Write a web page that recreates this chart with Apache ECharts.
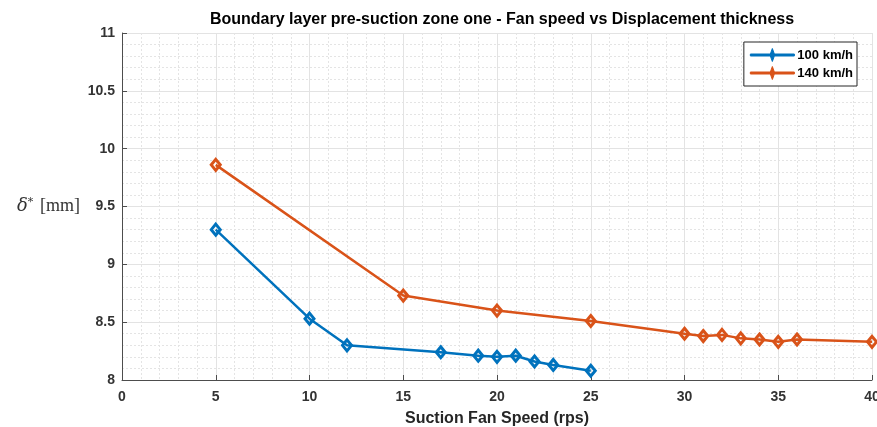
<!DOCTYPE html>
<html>
<head>
<meta charset="utf-8">
<script src="https://cdn.jsdelivr.net/npm/echarts@6/dist/echarts.min.js"></script>
<style>
  html, body { margin: 0; padding: 0; background: #fff; }
  #chart { width: 877px; height: 427px; }
</style>
</head>
<body>
<div id="chart"></div>
<script>
// Fan speed (rps) and displacement thickness (mm) per free-stream speed
const speed100 = [5, 10, 12, 17, 19, 20, 21, 22, 23, 25];
const delta100 = [9.30, 8.53, 8.30, 8.24, 8.21, 8.20, 8.21, 8.16, 8.13, 8.08];
const speed140 = [5, 15, 20, 25, 30, 31, 32, 33, 34, 35, 36, 40];
const delta140 = [9.86, 8.73, 8.60, 8.51, 8.40, 8.38, 8.39, 8.36, 8.35, 8.33, 8.35, 8.33];
const seriesNames = ['100 km/h', '140 km/h'];
const seriesColors = ['#0072BD', '#D95319'];

const pairs = (xs, ys) => xs.map((x, i) => [x, ys[i]]);

const chart = echarts.init(document.getElementById('chart'));

const sans = 'Liberation Sans, Arial, sans-serif';
const axisText = { color: '#333', fontFamily: sans, fontWeight: 'bold', fontSize: 14 };

function lineSeries(name, data, color) {
  return {
    name: name,
    type: 'line',
    data: data,
    symbol: 'diamond',
    symbolSize: [9, 11],
    showAllSymbol: true,
    lineStyle: { color: color, width: 2.5 },
    itemStyle: { color: 'rgba(255,255,255,0)', borderColor: color, borderWidth: 3 },
    emphasis: { disabled: true },
    z: 3
  };
}

chart.setOption({
  animation: false,
  backgroundColor: '#ffffff',
  title: {
    text: 'Boundary layer pre-suction zone one - Fan speed vs Displacement thickness',
    left: 497, top: 7, textAlign: 'center',
    textStyle: { fontFamily: sans, fontWeight: 'bold', fontSize: 16, color: '#000' }
  },
  legend: {
    right: 20, top: 42,
    orient: 'vertical',
    backgroundColor: '#fff',
    borderColor: '#262626', borderWidth: 1,
    padding: [6, 4, 6, 6],
    itemGap: 4,
    itemWidth: 44, itemHeight: 13,
    textStyle: { fontFamily: sans, fontWeight: 'bold', fontSize: 13, color: '#000', padding: [0, 0, 0, -2] },
    data: seriesNames.map((n, i) => ({
      name: n,
      icon: 'path://M0,5.5 L20,5.5 L22,0 L24,5.5 L44,5.5 L44,7.5 L24,7.5 L22,13 L20,7.5 L0,7.5 Z',
      itemStyle: { color: seriesColors[i], borderColor: seriesColors[i], borderWidth: 1 }
    }))
  },
  grid: { left: 122, right: 5, top: 33, bottom: 47, containLabel: false, outerBoundsMode: 'none' },
  xAxis: {
    type: 'value', min: 0, max: 40, interval: 5,
    name: 'Suction Fan Speed (rps)', nameLocation: 'middle', nameGap: 31,
    nameTextStyle: { fontFamily: sans, fontWeight: 'bold', fontSize: 16, color: '#262626' },
    axisLine: { show: true, onZero: false, lineStyle: { color: '#4d4d4d', width: 1 } },
    axisTick: { show: true, inside: true, length: 5, lineStyle: { color: '#4d4d4d' } },
    axisLabel: Object.assign({ margin: 10 }, axisText),
    splitLine: { show: true, lineStyle: { color: '#e3e3e3', width: 1 } },
    minorTick: { show: false, splitNumber: 5 },
    minorSplitLine: { show: true, lineStyle: { color: '#e4e4e4', type: [2, 2], width: 1 } }
  },
  yAxis: {
    type: 'value', min: 8, max: 11, interval: 0.5,
    name: '{d|δ}{s|*}  {m|[mm]}', nameLocation: 'middle', nameGap: 42, nameRotate: 0,
    nameTextStyle: {
      rich: {
        d: { fontFamily: 'DejaVu Serif, Liberation Serif, serif', fontStyle: 'italic', fontSize: 18, color: '#333' },
        s: { fontFamily: 'DejaVu Serif, Liberation Serif, serif', fontSize: 11, color: '#333', verticalAlign: 'top', padding: [0, 0, 8, 0] },
        m: { fontFamily: 'Liberation Serif, serif', fontSize: 18, color: '#333' }
      }
    },
    axisLine: { show: true, lineStyle: { color: '#4d4d4d', width: 1 } },
    axisTick: { show: true, inside: true, length: 5, lineStyle: { color: '#4d4d4d' } },
    axisLabel: Object.assign({ margin: 7 }, axisText),
    splitLine: { show: true, lineStyle: { color: '#e3e3e3', width: 1 } },
    minorTick: { show: false, splitNumber: 5 },
    minorSplitLine: { show: true, lineStyle: { color: '#e4e4e4', type: [2, 2], width: 1 } }
  },
  series: [
    lineSeries(seriesNames[0], pairs(speed100, delta100), seriesColors[0]),
    lineSeries(seriesNames[1], pairs(speed140, delta140), seriesColors[1])
  ]
});
</script>
</body>
</html>
